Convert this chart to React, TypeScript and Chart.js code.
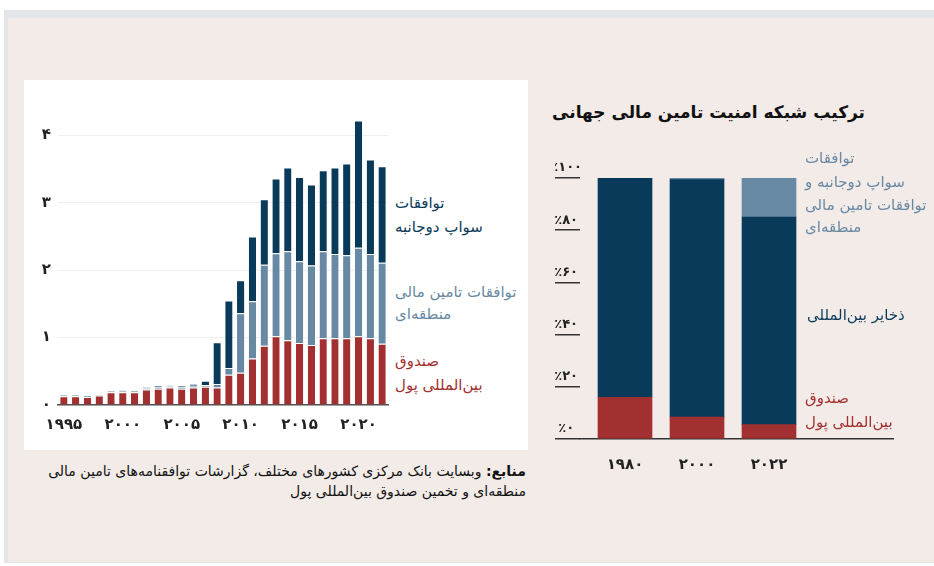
import React, { useEffect, useRef } from 'react';
import { Chart, registerables } from 'chart.js';

Chart.register(...registerables);

const FONT = '"DejaVu Sans", sans-serif';
const NAVY = '#0a3a5a';
const LIGHT = '#6889a3';
const RED = '#a33031';

// ---------- Left chart data (trillions USD) ----------
const years = [1995, 1996, 1997, 1998, 1999, 2000, 2001, 2002, 2003, 2004, 2005, 2006, 2007, 2008,
  2009, 2010, 2011, 2012, 2013, 2014, 2015, 2016, 2017, 2018, 2019, 2020, 2021, 2022];
const imfValues = [0.13, 0.13, 0.12, 0.14, 0.19, 0.19, 0.19, 0.23, 0.24, 0.26, 0.24, 0.26, 0.27, 0.26,
  0.45, 0.48, 0.69, 0.88, 1.02, 0.96, 0.92, 0.89, 0.99, 0.99, 0.99, 1.02, 0.99, 0.91];
const regionalValues = [0.02, 0.02, 0.02, 0.02, 0.02, 0.02, 0.005, 0.02, 0.03, 0.02, 0.03, 0.025, 0.025, 0.05,
  0.10, 0.88, 0.85, 1.20, 1.23, 1.32, 1.21, 1.18, 1.29, 1.25, 1.23, 1.31, 1.25, 1.20];
const swapValues = [0, 0, 0, 0, 0, 0.01, 0.015, 0.013, 0.023, 0.01, 0.02, 0.03, 0.065, 0.62,
  1.00, 0.49, 0.96, 0.97, 1.11, 1.24, 1.25, 1.20, 1.20, 1.28, 1.36, 1.89, 1.40, 1.43];
const labeledYears = [1995, 2000, 2005, 2010, 2015, 2020];
const leftYTicks = [0, 1, 2, 3, 4];
const leftYTickLabels = ['۰', '۱', '۲', '۳', '۴'];

// ---------- Right chart data (percent) ----------
const shareCategories = ['۱۹۸۰', '۲۰۰۰', '۲۰۲۲'];
const shareImf = [16, 8.4, 5.5];
const shareReserves = [84, 91.0, 79.5];
const shareSwaps = [0, 0.6, 15];
const shareTicks = [0, 20, 40, 60, 80, 100];
const shareTickLabels = ['٪۰', '٪۲۰', '٪۴۰', '٪۶۰', '٪۸۰', '٪۱۰۰'];

const toFa = (s: string | number) => String(s).replace(/\d/g, (d) => '۰۱۲۳۴۵۶۷۸۹'[+d]);

function Label(props: { x: number; y: number; text: string; color?: string; size?: number; weight?: any; align?: 'left' | 'right'; children?: any }) {
  const { x, y, text, color = '#111', size = 15, weight = 'normal', align = 'left' } = props;
  const lh = size + 8;
  const style: any = {
    position: 'absolute',
    top: y - lh / 2,
    lineHeight: lh + 'px',
    fontSize: size,
    fontWeight: weight,
    color,
    whiteSpace: 'nowrap',
    direction: 'rtl',
    fontFamily: FONT,
  };
  if (align === 'left') style.left = x; else style.right = 934 - x;
  return <div style={style}>{props.children ?? text}</div>;
}

export default function App() {
  const leftRef = useRef<HTMLCanvasElement>(null);
  const rightRef = useRef<HTMLCanvasElement>(null);

  useEffect(() => {
    const barBorder = { top: 1, right: 0, bottom: 0, left: 0 };
    const left = new Chart(leftRef.current as HTMLCanvasElement, {
      type: 'bar',
      data: {
        labels: years.map(String),
        datasets: [
          { label: 'imf', data: imfValues, backgroundColor: RED },
          { label: 'regional', data: regionalValues, backgroundColor: LIGHT },
          { label: 'swap', data: swapValues, backgroundColor: NAVY },
        ],
      },
      options: {
        animation: false,
        responsive: false,
        maintainAspectRatio: false,
        devicePixelRatio: 1,
        layout: { padding: { top: 35, right: 2, left: 0, bottom: 0 } },
        plugins: { legend: { display: false }, tooltip: { enabled: false } },
        datasets: {
          bar: {
            barPercentage: 0.62,
            categoryPercentage: 1,
            borderWidth: barBorder as any,
            borderColor: 'rgba(255,255,255,0.55)',
          },
        },
        scales: {
          x: {
            stacked: true,
            grid: { display: false },
            border: { display: true, color: '#555', width: 1.5 },
            ticks: {
              autoSkip: false,
              maxRotation: 0,
              minRotation: 0,
              padding: 3,
              color: '#222',
              font: { family: FONT, size: 15, weight: 'bold' },
              callback: (_v: any, i: number) => (labeledYears.includes(years[i]) ? toFa(years[i]) : ''),
            },
            afterFit: (s: any) => { s.height = 35; },
          },
          y: {
            stacked: true,
            min: 0,
            max: 4.3,
            bounds: 'data',
            afterBuildTicks: (s: any) => { s.ticks = leftYTicks.map((v) => ({ value: v })); },
            grid: { color: '#efefef', lineWidth: 1, drawTicks: false },
            border: { display: false },
            ticks: {
              padding: 7,
              color: '#222',
              font: { family: FONT, size: 15, weight: 'bold' },
              callback: (v: any) => leftYTickLabels[leftYTicks.indexOf(v)] ?? '',
            },
            afterFit: (s: any) => { s.width = 34; },
          },
        },
      } as any,
    });

    const right = new Chart(rightRef.current as HTMLCanvasElement, {
      type: 'bar',
      data: {
        datasets: [
          { label: 'imf', data: shareCategories.map((_c, i) => ({ x: i, y: shareImf[i] })), backgroundColor: RED },
          { label: 'reserves', data: shareCategories.map((_c, i) => ({ x: i, y: shareReserves[i] })), backgroundColor: NAVY },
          { label: 'swaps', data: shareCategories.map((_c, i) => ({ x: i, y: shareSwaps[i] })), backgroundColor: LIGHT },
        ],
      },
      options: {
        animation: false,
        responsive: false,
        maintainAspectRatio: false,
        devicePixelRatio: 1,
        layout: { padding: { top: 28, left: 10, right: 7, bottom: 0 } },
        plugins: { legend: { display: false }, tooltip: { enabled: false } },
        datasets: { bar: { barThickness: 54, borderWidth: 0 } },
        scales: {
          x: {
            type: 'linear',
            offset: false,
            stacked: true,
            min: -0.625,
            max: 3.722,
            bounds: 'data',
            afterBuildTicks: (s: any) => { s.ticks = shareCategories.map((_c, i) => ({ value: i })); },
            grid: { display: false, offset: false },
            border: { display: true, color: '#333', width: 1.5 },
            ticks: {
              padding: 9,
              color: '#222',
              font: { family: FONT, size: 15, weight: 'bold' },
              callback: (v: any) => shareCategories[v] ?? '',
            },
            afterFit: (s: any) => { s.height = 41; },
          },
          y: {
            stacked: true,
            min: 0,
            max: 100,
            bounds: 'data',
            afterBuildTicks: (s: any) => { s.ticks = shareTicks.map((v) => ({ value: v })); },
            grid: { drawOnChartArea: false, drawTicks: true, tickLength: 25, color: '#333', lineWidth: 1.5 },
            border: { display: false },
            ticks: {
              crossAlign: 'center',
              padding: -27,
              labelOffset: -10,
              color: '#222',
              font: { family: FONT, size: 13, weight: 'bold' },
              callback: (v: any) => shareTickLabels[shareTicks.indexOf(v)] ?? '',
            },
            afterFit: (s: any) => { s.width = 25; },
          },
        },
      } as any,
    });

    return () => { left.destroy(); right.destroy(); };
  }, []);

  return (
    <div style={{ position: 'absolute', left: 0, top: 0, width: 934, height: 566, background: '#fff', overflow: 'hidden', fontFamily: FONT }}>
      <div style={{ position: 'absolute', left: 4, top: 10, width: 930, height: 553, background: '#e3e6e8' }} />
      <div style={{ position: 'absolute', left: 8, top: 18, width: 926, height: 544, background: '#f3ebe8' }} />
      <div style={{ position: 'absolute', left: 24, top: 80, width: 504, height: 370, background: '#ffffff' }} />
      <canvas ref={leftRef} width={366} height={360} style={{ position: 'absolute', left: 24, top: 80, width: 366, height: 360 }} />

      <Label x={395} y={203} text="توافقات" color={NAVY} />
      <Label x={395} y={227} text="سواپ دوجانبه" color={NAVY} />
      <Label x={395} y={292} text="توافقات تامین مالی" color={LIGHT} />
      <Label x={395} y={314} text={'منطقه\u200cای'} color={LIGHT} />
      <Label x={395} y={361} text="صندوق" color={RED} />
      <Label x={395} y={385} text={'بین\u200cالمللی پول'} color={RED} />

      <Label x={526} y={471} text="" align="right" size={14} color="#111">
        <b>منابع:</b> وبسایت بانک مرکزی کشورهای مختلف، گزارشات توافقنامه{'\u200c'}های تامین مالی
      </Label>
      <Label x={526} y={491} text={'منطقه\u200cای و تخمین صندوق بین\u200cالمللی پول'} align="right" size={14} color="#111" />

      <Label x={865} y={112} text="ترکیب شبکه امنیت تامین مالی جهانی" align="right" size={17} weight="bold" color="#111" />

      <canvas ref={rightRef} width={355} height={330} style={{ position: 'absolute', left: 545, top: 150, width: 355, height: 330 }} />

      <Label x={805} y={158} text="توافقات" color={LIGHT} />
      <Label x={805} y={182} text="سواپ دوجانبه و" color={LIGHT} />
      <Label x={805} y={205} text="توافقات تامین مالی" color={LIGHT} />
      <Label x={805} y={227} text={'منطقه\u200cای'} color={LIGHT} />
      <Label x={807} y={315} text={'ذخایر بین\u200cالمللی'} color={NAVY} />
      <Label x={805} y={398} text="صندوق" color={RED} />
      <Label x={805} y={422} text={'بین\u200cالمللی پول'} color={RED} />
    </div>
  );
}
